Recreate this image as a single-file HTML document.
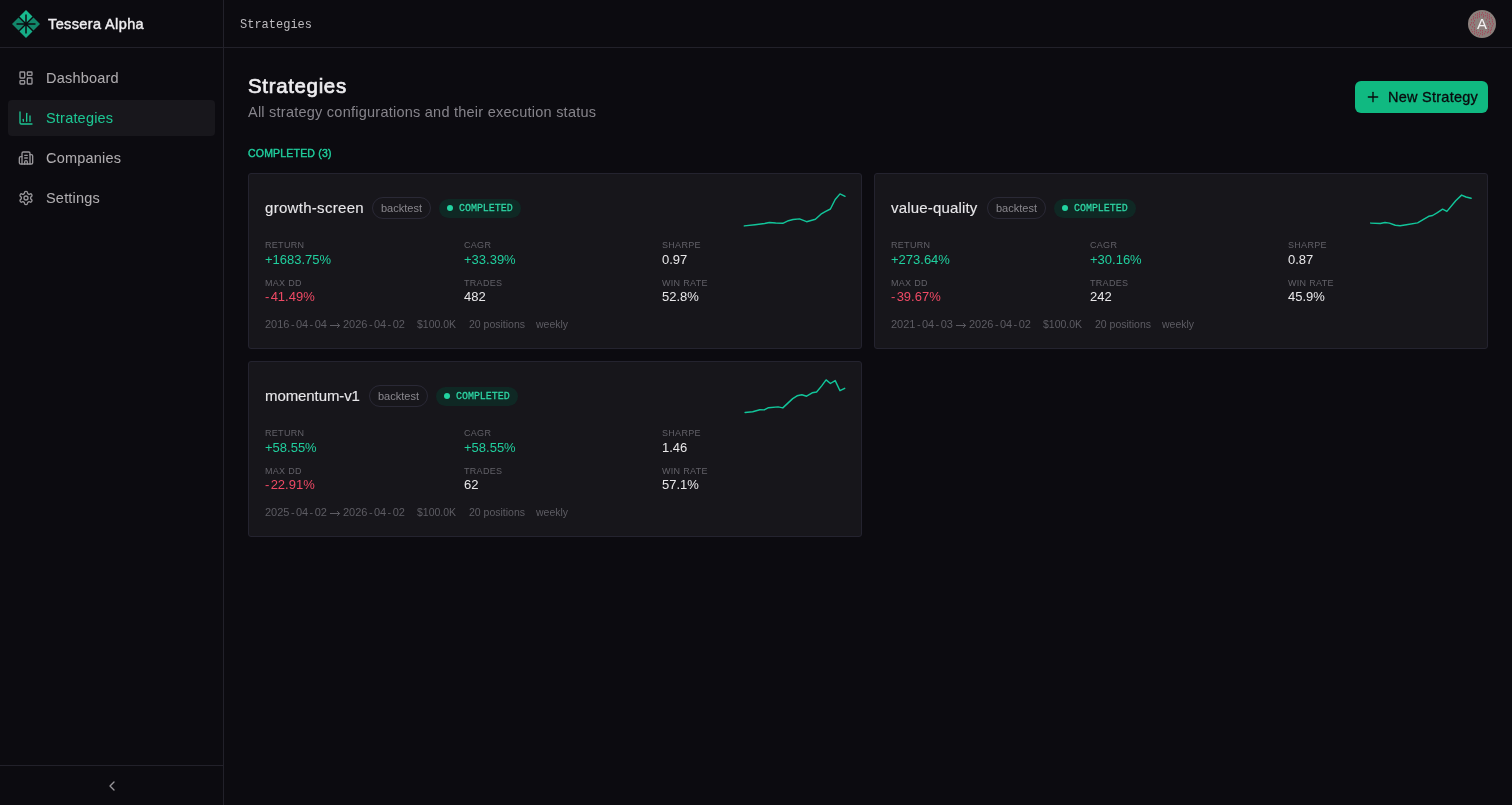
<!DOCTYPE html>
<html><head><meta charset="utf-8">
<style>
*{box-sizing:border-box;margin:0;padding:0}
html,body{width:1512px;height:805px;overflow:hidden;background:#0c0b10;font-family:"Liberation Sans",sans-serif;color:#ecebee}
.t{position:absolute;white-space:nowrap;will-change:transform}
.mono{font-family:"Liberation Mono",monospace}
.ln{position:absolute;background:#22212a}
.card{position:absolute;width:614px;height:176px;background:#17161b;border:1px solid #24232f;border-radius:3px}
.pill{position:absolute;height:22px;width:59px;border:1px solid #2a2936;border-radius:11px}
.badge{position:absolute;height:19px;width:82px;border-radius:10px;background:#0f2824}
.dot{position:absolute;width:6px;height:6px;border-radius:50%;background:#22d3a0}
.lab{font-size:9px;line-height:9px;letter-spacing:0.2px;color:#66656c}
.val{font-size:13px;line-height:13px;color:#e9e8ea}
.g{color:#20cf9e}
.r{color:#ef4a65}
.ft{font-size:10.5px;line-height:10.5px;color:#5d5c63}
</style></head><body>

<div class="ln" style="left:223px;top:0;width:1px;height:805px"></div>
<div class="ln" style="left:0;top:47px;width:1512px;height:1px"></div>
<div class="ln" style="left:0;top:765px;width:223px;height:1px"></div>
<svg style="position:absolute;left:12px;top:9.9px;width:28px;height:28px" viewBox="0 0 28 28">
<path d="M14 0 L20.5 6.5 L14 13 L7.5 6.5 Z" fill="#18b98e"/>
<path d="M0 14 L6.5 7.5 L13 14 L6.5 20.5 Z" fill="#12866a"/>
<path d="M28 14 L21.5 7.5 L15 14 L21.5 20.5 Z" fill="#12866a"/>
<path d="M14 28 L20.5 21.5 L14 15 L7.5 21.5 Z" fill="#16ab86"/>
<path d="M14 4.6 V23.4 M4.5 14 H23.5" stroke="#0c0b10" stroke-width="1.5"/>
<circle cx="14" cy="14" r="1.6" fill="#0c0b10"/>
</svg>
<div class="t" style="left:48.20px;top:16.72px;font-size:14.5px;line-height:14.5px;color:#eeedf0;letter-spacing:0.38px;-webkit-text-stroke:0.42px #eeedf0">Tessera Alpha</div>
<div style="position:absolute;left:8px;top:100px;width:207px;height:36px;border-radius:4px;background:#18171c"></div>
<div class="t" style="left:46.20px;top:70.62px;font-size:14.5px;line-height:14.5px;color:#b0adb0;letter-spacing:0.2px;-webkit-text-stroke:0.04px #b0adb0">Dashboard</div>
<div class="t" style="left:46.20px;top:110.52px;font-size:14.5px;line-height:14.5px;color:#1dc592;letter-spacing:0.2px;-webkit-text-stroke:0.04px #1dc592">Strategies</div>
<div class="t" style="left:46.20px;top:150.62px;font-size:14.5px;line-height:14.5px;color:#b0adb0;letter-spacing:0.2px;-webkit-text-stroke:0.04px #b0adb0">Companies</div>
<div class="t" style="left:46.20px;top:190.52px;font-size:14.5px;line-height:14.5px;color:#b0adb0;letter-spacing:0.2px;-webkit-text-stroke:0.04px #b0adb0">Settings</div>
<svg style="position:absolute;left:18px;top:70px;width:16px;height:16px" viewBox="0 0 24 24" fill="none" stroke="#98969a" stroke-width="2" stroke-linecap="round" stroke-linejoin="round"><rect width="7" height="9" x="3" y="3" rx="1"/><rect width="7" height="5" x="14" y="3" rx="1"/><rect width="7" height="9" x="14" y="12" rx="1"/><rect width="7" height="5" x="3" y="16" rx="1"/></svg>
<svg style="position:absolute;left:18px;top:110px;width:16px;height:16px" viewBox="0 0 24 24" fill="none" stroke="#1dc592" stroke-width="2" stroke-linecap="round" stroke-linejoin="round"><path d="M3 3v16a2 2 0 0 0 2 2h16"/><path d="M18 17V9"/><path d="M13 17V5"/><path d="M8 17v-3"/></svg>
<svg style="position:absolute;left:18px;top:150px;width:16px;height:16px" viewBox="0 0 24 24" fill="none" stroke="#98969a" stroke-width="2" stroke-linecap="round" stroke-linejoin="round"><path d="M10 12h4"/><path d="M10 8h4"/><path d="M14 21v-3a2 2 0 0 0-4 0v3"/><path d="M6 10H4a2 2 0 0 0-2 2v7a2 2 0 0 0 2 2h16a2 2 0 0 0 2-2V9a2 2 0 0 0-2-2h-2"/><path d="M6 21V5a2 2 0 0 1 2-2h8a2 2 0 0 1 2 2v16"/></svg>
<svg style="position:absolute;left:18px;top:190px;width:16px;height:16px" viewBox="0 0 24 24" fill="none" stroke="#98969a" stroke-width="2" stroke-linecap="round" stroke-linejoin="round"><path d="M12.22 2h-.44a2 2 0 0 0-2 2v.18a2 2 0 0 1-1 1.73l-.43.25a2 2 0 0 1-2 0l-.15-.08a2 2 0 0 0-2.73.73l-.22.38a2 2 0 0 0 .73 2.73l.15.1a2 2 0 0 1 1 1.72v.51a2 2 0 0 1-1 1.74l-.15.09a2 2 0 0 0-.73 2.73l.22.38a2 2 0 0 0 2.730.73l.15-.08a2 2 0 0 1 2 0l.43.25a2 2 0 0 1 1 1.73V20a2 2 0 0 0 2 2h.44a2 2 0 0 0 2-2v-.18a2 2 0 0 1 1-1.73l.43-.25a2 2 0 0 1 2 0l.15.08a2 2 0 0 0 2.73-.73l.22-.39a2 2 0 0 0-.73-2.73l-.15-.08a2 2 0 0 1-1-1.74v-.5a2 2 0 0 1 1-1.74l.15-.09a2 2 0 0 0 .73-2.73l-.22-.38a2 2 0 0 0-2.73-.73l-.15.08a2 2 0 0 1-2 0l-.43-.25a2 2 0 0 1-1-1.73V4a2 2 0 0 0-2-2z"/><circle cx="12" cy="12" r="3"/></svg>
<svg style="position:absolute;left:103.6px;top:777.8px;width:16px;height:16px" viewBox="0 0 24 24" fill="none" stroke="#98969a" stroke-width="2" stroke-linecap="round" stroke-linejoin="round"><path d="m15 18-6-6 6-6"/></svg>
<div class="t mono" style="left:240.10px;top:18.81px;font-size:12px;line-height:12px;color:#bdbbbf;transform:scaleY(1.12);transform-origin:0 9.19px">Strategies</div>
<svg style="position:absolute;left:1468px;top:9.6px;width:28px;height:28px" viewBox="0 0 28 28"><circle cx="14" cy="14" r="14" fill="#8c807c"/><g fill="#ad2f4b"><circle cx="11.41" cy="2.86" r="0.6"/><circle cx="14.40" cy="2.86" r="0.6"/><circle cx="17.38" cy="2.86" r="0.6"/><circle cx="9.42" cy="3.85" r="0.6"/><circle cx="19.37" cy="3.85" r="0.6"/><circle cx="7.43" cy="4.85" r="0.6"/><circle cx="11.41" cy="4.85" r="0.6"/><circle cx="13.40" cy="4.85" r="0.6"/><circle cx="15.39" cy="4.85" r="0.6"/><circle cx="21.36" cy="4.85" r="0.6"/><circle cx="9.42" cy="5.84" r="0.6"/><circle cx="17.38" cy="5.84" r="0.6"/><circle cx="19.37" cy="5.84" r="0.6"/><circle cx="5.44" cy="6.84" r="0.6"/><circle cx="11.41" cy="6.84" r="0.6"/><circle cx="15.39" cy="6.84" r="0.6"/><circle cx="21.36" cy="6.84" r="0.6"/><circle cx="7.43" cy="7.83" r="0.6"/><circle cx="9.42" cy="7.83" r="0.6"/><circle cx="19.37" cy="7.83" r="0.6"/><circle cx="23.35" cy="7.83" r="0.6"/><circle cx="5.44" cy="8.83" r="0.6"/><circle cx="21.36" cy="8.83" r="0.6"/><circle cx="3.45" cy="9.82" r="0.6"/><circle cx="18.38" cy="9.82" r="0.6"/><circle cx="24.35" cy="9.82" r="0.6"/><circle cx="6.44" cy="10.82" r="0.6"/><circle cx="21.36" cy="11.81" r="0.6"/><circle cx="24.35" cy="11.81" r="0.6"/><circle cx="3.45" cy="12.81" r="0.6"/><circle cx="5.44" cy="12.81" r="0.6"/><circle cx="19.37" cy="13.80" r="0.6"/><circle cx="22.36" cy="13.80" r="0.6"/><circle cx="25.34" cy="13.80" r="0.6"/><circle cx="2.46" cy="14.80" r="0.6"/><circle cx="6.44" cy="14.80" r="0.6"/><circle cx="24.35" cy="15.79" r="0.6"/><circle cx="4.45" cy="16.79" r="0.6"/><circle cx="20.37" cy="16.79" r="0.6"/><circle cx="6.44" cy="17.78" r="0.6"/><circle cx="23.35" cy="17.78" r="0.6"/><circle cx="3.45" cy="19.77" r="0.6"/><circle cx="6.44" cy="19.77" r="0.6"/><circle cx="20.37" cy="19.77" r="0.6"/><circle cx="23.35" cy="19.77" r="0.6"/><circle cx="8.43" cy="20.77" r="0.6"/><circle cx="12.41" cy="20.77" r="0.6"/><circle cx="14.40" cy="20.77" r="0.6"/><circle cx="22.36" cy="20.77" r="0.6"/><circle cx="4.45" cy="21.76" r="0.6"/><circle cx="6.44" cy="21.76" r="0.6"/><circle cx="17.38" cy="21.76" r="0.6"/><circle cx="20.37" cy="21.76" r="0.6"/><circle cx="8.43" cy="22.76" r="0.6"/><circle cx="10.42" cy="22.76" r="0.6"/><circle cx="14.40" cy="22.76" r="0.6"/><circle cx="19.37" cy="22.76" r="0.6"/><circle cx="22.36" cy="22.76" r="0.6"/><circle cx="6.44" cy="23.75" r="0.6"/><circle cx="12.41" cy="23.75" r="0.6"/><circle cx="16.39" cy="23.75" r="0.6"/><circle cx="9.42" cy="24.75" r="0.6"/><circle cx="14.40" cy="24.75" r="0.6"/><circle cx="11.41" cy="25.74" r="0.6"/></g></svg>
<div class="t" style="left:1476.90px;top:16.20px;font-size:15px;line-height:15px;color:#f4f2f2">A</div>
<div class="t" style="left:248.20px;top:75.64px;font-size:20.5px;line-height:20.5px;color:#eeedf0;letter-spacing:0.65px;-webkit-text-stroke:0.65px #eeedf0">Strategies</div>
<div class="t" style="left:247.80px;top:104.52px;font-size:14.5px;line-height:14.5px;color:#86848b;letter-spacing:0.24px">All strategy configurations and their execution status</div>
<div class="t" style="left:247.90px;top:147.51px;font-size:10.5px;line-height:10.5px;color:#20cf9e;letter-spacing:0.2px;-webkit-text-stroke:0.4px #20cf9e">COMPLETED (3)</div>
<div style="position:absolute;left:1355px;top:81px;width:133px;height:32px;border-radius:6px;background:#10b981"></div>
<svg style="position:absolute;left:1365.4px;top:88.9px;width:16px;height:16px" viewBox="0 0 24 24" fill="none" stroke="#0a0a0d" stroke-width="2" stroke-linecap="round"><path d="M5 12h14"/><path d="M12 5v14"/></svg>
<div class="t" style="left:1387.80px;top:89.92px;font-size:14.5px;line-height:14.5px;color:#0a0a0d;letter-spacing:0.25px;-webkit-text-stroke:0.3px #0a0a0d">New Strategy</div>
<div class="card" style="left:248px;top:173px"></div>
<div class="t" style="left:265.20px;top:200.09px;font-size:15px;line-height:15px;color:#e7e6e9;letter-spacing:0.3px;-webkit-text-stroke:0.12px #e7e6e9">growth-screen</div>
<div class="pill" style="left:372px;top:197px"></div>
<div class="t" style="left:381.20px;top:202.58px;font-size:11px;line-height:11px;color:#89878d">backtest</div>
<div class="badge" style="left:439px;top:198.5px"></div>
<div class="dot" style="left:447px;top:205px"></div>
<div class="t mono" style="left:459.20px;top:204.24px;font-size:10px;line-height:10px;color:#2ed8a6;letter-spacing:-0.04px;-webkit-text-stroke:0.22px #2ed8a6;transform:scaleY(1.16);transform-origin:0 7.66px">COMPLETED</div>
<div class="t" style="left:265.10px;top:240.78px;font-size:9px;line-height:9px;color:#626168;letter-spacing:0.3px">RETURN</div>
<div class="t" style="left:265.10px;top:253.19px;font-size:13px;line-height:13px;color:#20cf9e">+1683.75%</div>
<div class="t" style="left:463.60px;top:240.78px;font-size:9px;line-height:9px;color:#626168;letter-spacing:0.3px">CAGR</div>
<div class="t" style="left:463.60px;top:253.19px;font-size:13px;line-height:13px;color:#20cf9e">+33.39%</div>
<div class="t" style="left:662.20px;top:240.78px;font-size:9px;line-height:9px;color:#626168;letter-spacing:0.3px">SHARPE</div>
<div class="t" style="left:662.20px;top:253.19px;font-size:13px;line-height:13px;color:#e9e8ea">0.97</div>
<div class="t" style="left:265.10px;top:278.88px;font-size:9px;line-height:9px;color:#626168;letter-spacing:0.3px">MAX DD</div>
<div class="t" style="left:265.10px;top:290.09px;font-size:13px;line-height:13px;color:#ef4a65"><span style="margin-right:1.3px">-</span>41.49%</div>
<div class="t" style="left:463.60px;top:278.88px;font-size:9px;line-height:9px;color:#626168;letter-spacing:0.3px">TRADES</div>
<div class="t" style="left:463.60px;top:290.09px;font-size:13px;line-height:13px;color:#e9e8ea">482</div>
<div class="t" style="left:662.20px;top:278.88px;font-size:9px;line-height:9px;color:#626168;letter-spacing:0.3px">WIN RATE</div>
<div class="t" style="left:662.20px;top:290.09px;font-size:13px;line-height:13px;color:#e9e8ea">52.8%</div>
<div class="t" style="left:265.10px;top:318.58px;font-size:11px;line-height:11px;color:#5d5c63">2016<span style="margin:0 1.4px">-</span>04<span style="margin:0 1.4px">-</span>04</div>
<div class="t" style="left:342.80px;top:318.58px;font-size:11px;line-height:11px;color:#5d5c63">2026<span style="margin:0 1.4px">-</span>04<span style="margin:0 1.4px">-</span>02</div>
<svg style="position:absolute;left:328px;top:321px;width:14px;height:8px" viewBox="0 0 14 8"><path d="M2 4.5 H11.6 M9.2 2.2 L11.6 4.5 L9.2 6.8" fill="none" stroke="#5d5c63" stroke-width="1"/></svg>
<div class="t" style="left:417.10px;top:319.01px;font-size:10.5px;line-height:10.5px;color:#5d5c63">$100.0K</div>
<div class="t" style="left:469.10px;top:319.01px;font-size:10.5px;line-height:10.5px;color:#5d5c63">20 positions</div>
<div class="t" style="left:536.40px;top:319.01px;font-size:10.5px;line-height:10.5px;color:#5d5c63">weekly</div>
<svg style="position:absolute;left:248px;top:173px;width:614px;height:176px;overflow:visible"><path d="M496.3 52.9 L507.0 51.7 L516.6 50.5 L521.3 49.5 L527.7 50.0 L534.8 50.3 L540.4 47.7 L545.1 46.5 L551.5 45.9 L558.6 48.7 L567.4 46.3 L572.9 41.2 L577.7 38.4 L582.4 36.0 L587.2 26.5 L592.0 20.9 L597.1 23.3" fill="none" stroke="#12c59a" stroke-width="1.45" stroke-linejoin="round" stroke-linecap="round"/></svg>
<div class="card" style="left:874px;top:173px"></div>
<div class="t" style="left:891.20px;top:200.09px;font-size:15px;line-height:15px;color:#e7e6e9;letter-spacing:0.18px;-webkit-text-stroke:0.12px #e7e6e9">value-quality</div>
<div class="pill" style="left:986.5px;top:197px"></div>
<div class="t" style="left:995.70px;top:202.58px;font-size:11px;line-height:11px;color:#89878d">backtest</div>
<div class="badge" style="left:1054px;top:198.5px"></div>
<div class="dot" style="left:1062px;top:205px"></div>
<div class="t mono" style="left:1074.20px;top:204.24px;font-size:10px;line-height:10px;color:#2ed8a6;letter-spacing:-0.04px;-webkit-text-stroke:0.22px #2ed8a6;transform:scaleY(1.16);transform-origin:0 7.66px">COMPLETED</div>
<div class="t" style="left:891.10px;top:240.78px;font-size:9px;line-height:9px;color:#626168;letter-spacing:0.3px">RETURN</div>
<div class="t" style="left:891.10px;top:253.19px;font-size:13px;line-height:13px;color:#20cf9e">+273.64%</div>
<div class="t" style="left:1089.60px;top:240.78px;font-size:9px;line-height:9px;color:#626168;letter-spacing:0.3px">CAGR</div>
<div class="t" style="left:1089.60px;top:253.19px;font-size:13px;line-height:13px;color:#20cf9e">+30.16%</div>
<div class="t" style="left:1288.20px;top:240.78px;font-size:9px;line-height:9px;color:#626168;letter-spacing:0.3px">SHARPE</div>
<div class="t" style="left:1288.20px;top:253.19px;font-size:13px;line-height:13px;color:#e9e8ea">0.87</div>
<div class="t" style="left:891.10px;top:278.88px;font-size:9px;line-height:9px;color:#626168;letter-spacing:0.3px">MAX DD</div>
<div class="t" style="left:891.10px;top:290.09px;font-size:13px;line-height:13px;color:#ef4a65"><span style="margin-right:1.3px">-</span>39.67%</div>
<div class="t" style="left:1089.60px;top:278.88px;font-size:9px;line-height:9px;color:#626168;letter-spacing:0.3px">TRADES</div>
<div class="t" style="left:1089.60px;top:290.09px;font-size:13px;line-height:13px;color:#e9e8ea">242</div>
<div class="t" style="left:1288.20px;top:278.88px;font-size:9px;line-height:9px;color:#626168;letter-spacing:0.3px">WIN RATE</div>
<div class="t" style="left:1288.20px;top:290.09px;font-size:13px;line-height:13px;color:#e9e8ea">45.9%</div>
<div class="t" style="left:891.10px;top:318.58px;font-size:11px;line-height:11px;color:#5d5c63">2021<span style="margin:0 1.4px">-</span>04<span style="margin:0 1.4px">-</span>03</div>
<div class="t" style="left:968.80px;top:318.58px;font-size:11px;line-height:11px;color:#5d5c63">2026<span style="margin:0 1.4px">-</span>04<span style="margin:0 1.4px">-</span>02</div>
<svg style="position:absolute;left:954px;top:321px;width:14px;height:8px" viewBox="0 0 14 8"><path d="M2 4.5 H11.6 M9.2 2.2 L11.6 4.5 L9.2 6.8" fill="none" stroke="#5d5c63" stroke-width="1"/></svg>
<div class="t" style="left:1043.10px;top:319.01px;font-size:10.5px;line-height:10.5px;color:#5d5c63">$100.0K</div>
<div class="t" style="left:1095.10px;top:319.01px;font-size:10.5px;line-height:10.5px;color:#5d5c63">20 positions</div>
<div class="t" style="left:1162.40px;top:319.01px;font-size:10.5px;line-height:10.5px;color:#5d5c63">weekly</div>
<svg style="position:absolute;left:874px;top:173px;width:614px;height:176px;overflow:visible"><path d="M496.7 50.1 L506.3 50.5 L511.0 49.5 L515.4 50.1 L521.3 52.3 L526.1 52.7 L532.4 51.7 L543.6 49.9 L549.1 46.7 L554.7 43.3 L558.6 42.5 L563.4 39.6 L568.6 36.2 L572.9 38.4 L581.7 27.7 L587.6 22.1 L592.0 24.0 L597.1 25.3" fill="none" stroke="#12c59a" stroke-width="1.45" stroke-linejoin="round" stroke-linecap="round"/></svg>
<div class="card" style="left:248px;top:361px"></div>
<div class="t" style="left:265.20px;top:388.10px;font-size:15px;line-height:15px;color:#e7e6e9;letter-spacing:-0.09px;-webkit-text-stroke:0.12px #e7e6e9">momentum-v1</div>
<div class="pill" style="left:369px;top:385px"></div>
<div class="t" style="left:378.20px;top:390.58px;font-size:11px;line-height:11px;color:#89878d">backtest</div>
<div class="badge" style="left:436px;top:386.5px"></div>
<div class="dot" style="left:444px;top:393px"></div>
<div class="t mono" style="left:456.20px;top:392.24px;font-size:10px;line-height:10px;color:#2ed8a6;letter-spacing:-0.04px;-webkit-text-stroke:0.22px #2ed8a6;transform:scaleY(1.16);transform-origin:0 7.66px">COMPLETED</div>
<div class="t" style="left:265.10px;top:428.78px;font-size:9px;line-height:9px;color:#626168;letter-spacing:0.3px">RETURN</div>
<div class="t" style="left:265.10px;top:441.19px;font-size:13px;line-height:13px;color:#20cf9e">+58.55%</div>
<div class="t" style="left:463.60px;top:428.78px;font-size:9px;line-height:9px;color:#626168;letter-spacing:0.3px">CAGR</div>
<div class="t" style="left:463.60px;top:441.19px;font-size:13px;line-height:13px;color:#20cf9e">+58.55%</div>
<div class="t" style="left:662.20px;top:428.78px;font-size:9px;line-height:9px;color:#626168;letter-spacing:0.3px">SHARPE</div>
<div class="t" style="left:662.20px;top:441.19px;font-size:13px;line-height:13px;color:#e9e8ea">1.46</div>
<div class="t" style="left:265.10px;top:466.88px;font-size:9px;line-height:9px;color:#626168;letter-spacing:0.3px">MAX DD</div>
<div class="t" style="left:265.10px;top:478.09px;font-size:13px;line-height:13px;color:#ef4a65"><span style="margin-right:1.3px">-</span>22.91%</div>
<div class="t" style="left:463.60px;top:466.88px;font-size:9px;line-height:9px;color:#626168;letter-spacing:0.3px">TRADES</div>
<div class="t" style="left:463.60px;top:478.09px;font-size:13px;line-height:13px;color:#e9e8ea">62</div>
<div class="t" style="left:662.20px;top:466.88px;font-size:9px;line-height:9px;color:#626168;letter-spacing:0.3px">WIN RATE</div>
<div class="t" style="left:662.20px;top:478.09px;font-size:13px;line-height:13px;color:#e9e8ea">57.1%</div>
<div class="t" style="left:265.10px;top:506.58px;font-size:11px;line-height:11px;color:#5d5c63">2025<span style="margin:0 1.4px">-</span>04<span style="margin:0 1.4px">-</span>02</div>
<div class="t" style="left:342.80px;top:506.58px;font-size:11px;line-height:11px;color:#5d5c63">2026<span style="margin:0 1.4px">-</span>04<span style="margin:0 1.4px">-</span>02</div>
<svg style="position:absolute;left:328px;top:509px;width:14px;height:8px" viewBox="0 0 14 8"><path d="M2 4.5 H11.6 M9.2 2.2 L11.6 4.5 L9.2 6.8" fill="none" stroke="#5d5c63" stroke-width="1"/></svg>
<div class="t" style="left:417.10px;top:507.01px;font-size:10.5px;line-height:10.5px;color:#5d5c63">$100.0K</div>
<div class="t" style="left:469.10px;top:507.01px;font-size:10.5px;line-height:10.5px;color:#5d5c63">20 positions</div>
<div class="t" style="left:536.40px;top:507.01px;font-size:10.5px;line-height:10.5px;color:#5d5c63">weekly</div>
<svg style="position:absolute;left:248px;top:361px;width:614px;height:176px;overflow:visible"><path d="M497.1 51.5 L504.7 50.7 L511.8 48.7 L516.2 48.9 L520.5 46.7 L530.1 45.9 L534.8 46.9 L544.7 37.6 L549.1 34.8 L553.9 33.8 L558.6 35.2 L564.2 31.8 L568.6 31.0 L573.7 24.9 L578.1 18.9 L582.4 22.5 L587.2 19.6 L592.0 29.7 L596.7 27.3" fill="none" stroke="#12c59a" stroke-width="1.45" stroke-linejoin="round" stroke-linecap="round"/></svg>
</body></html>
